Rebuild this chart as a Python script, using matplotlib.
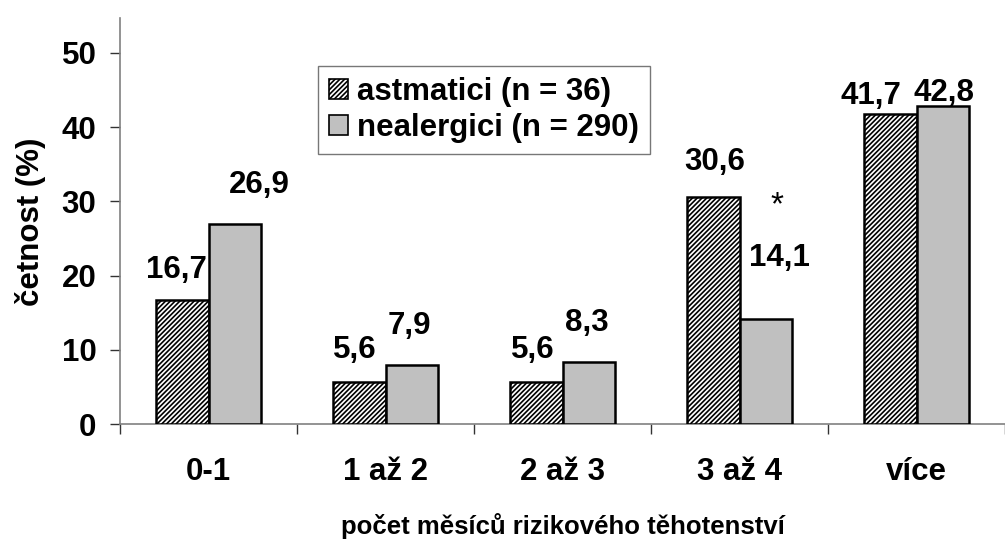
import matplotlib
matplotlib.use("Agg")
import matplotlib.pyplot as plt
import numpy as np

# data
categories = ["0-1", "1 až 2", "2 až 3", "3 až 4", "více"]
astmatici = [16.7, 5.6, 5.6, 30.6, 41.7]
nealergici = [26.9, 7.9, 8.3, 14.1, 42.8]
series_names = ["astmatici (n = 36)", "nealergici (n = 290)"]
yticks = [0, 10, 20, 30, 40, 50]

# label nudges in pixels (dx, dy above bar top)
ast_offsets = [(-6, 30), (-5, 32), (-4, 32), (1, 35), (-20, 18)]
neal_offsets = [(25, 39), (-2, 39), (-2, 39), (14, 61), (1, 13)]

plt.rcParams["font.family"] = ["Liberation Sans", "DejaVu Sans"]
plt.rcParams["hatch.linewidth"] = 1.2

FS = 22.5
W, H, DPI = 1005, 541, 100
fig = plt.figure(figsize=(W / DPI, H / DPI), dpi=DPI)
x0, x1 = 120, 1005
y0, y1 = 424, 18
ax = fig.add_axes([x0 / W, (H - y0) / H, (x1 - x0) / W, (y0 - y1) / H])

x = np.arange(len(categories))
bw = 0.294
b1 = ax.bar(x - bw / 2, astmatici, bw, color="white", edgecolor="black",
            hatch="///////", linewidth=1.8, label=series_names[0], zorder=3)
b2 = ax.bar(x + bw / 2, nealergici, bw, color="#c0c0c0", edgecolor="black",
            linewidth=1.8, label=series_names[1], zorder=3)

ax.set_xlim(-0.5, 4.5)
ax.set_ylim(0, 54.7)

for bars, vals, offs in ((b1, astmatici, ast_offsets), (b2, nealergici, neal_offsets)):
    for rect, v, (dx, dy) in zip(bars, vals, offs):
        ax.annotate(f"{v:.1f}".replace(".", ","),
                    (rect.get_x() + rect.get_width() / 2, v),
                    xytext=(dx * 72 / DPI, dy * 72 / DPI), textcoords="offset points",
                    ha="center", va="center", fontsize=FS, fontweight="bold")

# significance mark
ax.annotate("*", (x[3] + bw / 2, nealergici[3]), xytext=(11 * 0.72, 114 * 0.72),
            textcoords="offset points", ha="center", va="center", fontsize=24)

# spines and ticks
for s in ["top", "right"]:
    ax.spines[s].set_visible(False)
for s in ["left", "bottom"]:
    ax.spines[s].set_color("#808080")
    ax.spines[s].set_linewidth(1.2)

ax.set_yticks(yticks)
ax.set_yticklabels([str(t) for t in yticks], fontsize=FS, fontweight="bold")
ax.tick_params(axis="y", direction="out", length=7, width=1.0, color="#333333", pad=10)

ax.set_xticks(np.arange(len(categories) + 1) - 0.5)
ax.set_xticklabels([])
ax.tick_params(axis="x", direction="out", length=7, width=1.0, color="#333333")
for xi, c in zip(x, categories):
    ax.text(xi, -6.4, c, ha="center", va="center", fontsize=FS, fontweight="bold")

ax.text(2.0, -13.7, "počet měsíců rizikového těhotenství", ha="center", va="center",
        fontsize=18.5, fontweight="bold")
fig.text(30 / W, 1 - 222 / H, "četnost (%)", rotation=90, ha="center", va="center",
         fontsize=FS, fontweight="bold")

leg = ax.legend(loc="upper left", bbox_to_anchor=((318 - x0) / (x1 - x0), (y0 - 66) / (y0 - y1)),
                prop={"weight": "bold", "size": FS}, frameon=True, fancybox=False,
                handlelength=0.6, handleheight=0.6, handletextpad=0.3, borderpad=0.35,
                labelspacing=0.2, borderaxespad=0)
leg.get_frame().set_edgecolor("#555555")
leg.get_frame().set_linewidth(1.0)
for h in leg.legend_handles:
    h.set_linewidth(1.2)

fig.savefig("out.png", dpi=DPI)
